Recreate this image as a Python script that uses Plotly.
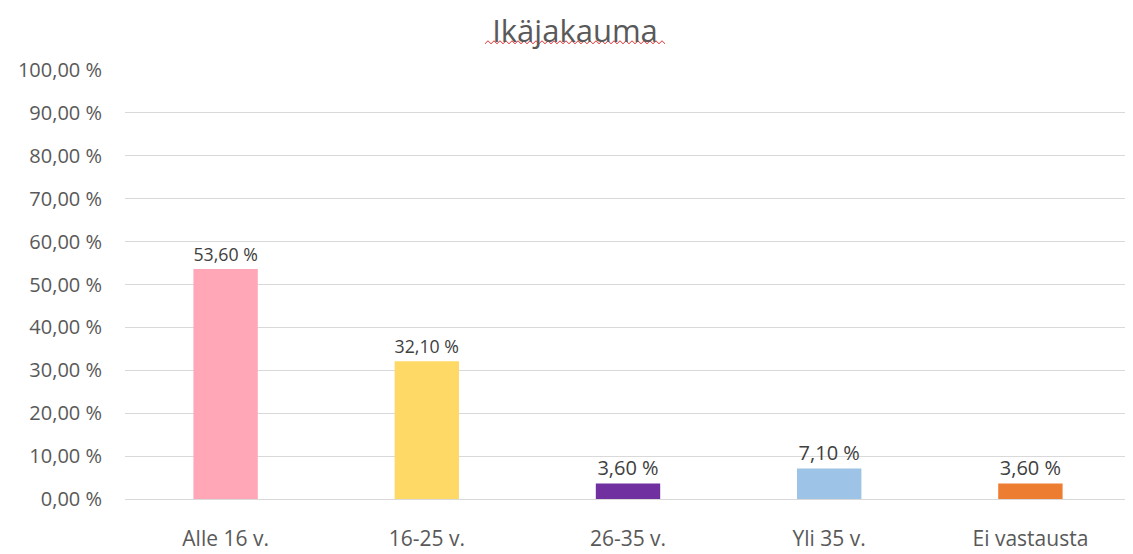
import plotly.graph_objects as go

categories = ["Alle 16 v.", "16-25 v.", "26-35 v.", "Yli 35 v.", "Ei vastausta"]
shares = [53.6, 32.1, 3.6, 7.1, 3.6]
bar_colors = ["#FFA7B7", "#FFD966", "#7030A0", "#9DC3E6", "#ED7D31"]
y_ticks = [0, 10, 20, 30, 40, 50, 60, 70, 80, 90, 100]
y_tick_text = [f"{v:.2f}".replace(".", ",") + " %" for v in y_ticks]

font_family = "'Open Sans', 'Noto Sans', sans-serif"
text_grey = "#595959"

W, H = 1125, 546
ML, MR, MT, MB = 117, 2, 62, 51

fig = go.Figure(go.Bar(
    x=categories,
    y=shares,
    marker=dict(color=bar_colors, line=dict(width=0)),
    width=0.32,
    texttemplate="%{y:.2f} %",
    textposition="outside",
    textfont=dict(size=20, color="#404040", family=font_family),
    cliponaxis=False,
))

fig.update_layout(
    title=dict(text="Ikäjakauma", x=0.504, xanchor="center", y=0.958, yanchor="middle",
               font=dict(size=31, color=text_grey, family=font_family)),
    separators=", ",
    width=W, height=H,
    margin=dict(l=ML, r=MR, t=MT, b=MB),
    plot_bgcolor="white", paper_bgcolor="white",
    showlegend=False,
    font=dict(family=font_family, color=text_grey, size=17),
    xaxis=dict(showgrid=False, showline=False, ticks="",
               ticklabelstandoff=25, tickfont=dict(size=21)),
    yaxis=dict(range=[0, 100], tickvals=y_ticks, ticktext=y_tick_text,
               gridcolor="#D9D9D9", gridwidth=1, zeroline=True, zerolinecolor="#D9D9D9",
               zerolinewidth=1, showline=False, ticklabelstandoff=22,
               tickfont=dict(size=20)),
)

# red spell-check squiggle under the title (decoration, pixel coords -> paper)
pw, ph = W - ML - MR, H - MT - MB
x0, x1, yb = 477, 657, 34
pts = []
for i in range(int((x1 - x0) / 3) + 1):
    px_ = x0 + i * 3
    py_ = yb + (1.5 if i % 2 == 0 else -1.5)
    pts.append(((px_ - ML) / pw, 1 + (MT - py_) / ph))
path = "M " + " L ".join(f"{a:.5f},{b:.5f}" for a, b in pts)
fig.add_shape(type="path", path=path, xref="paper", yref="paper",
              line=dict(color="#E03030", width=1))

fig.write_html("out.html")
